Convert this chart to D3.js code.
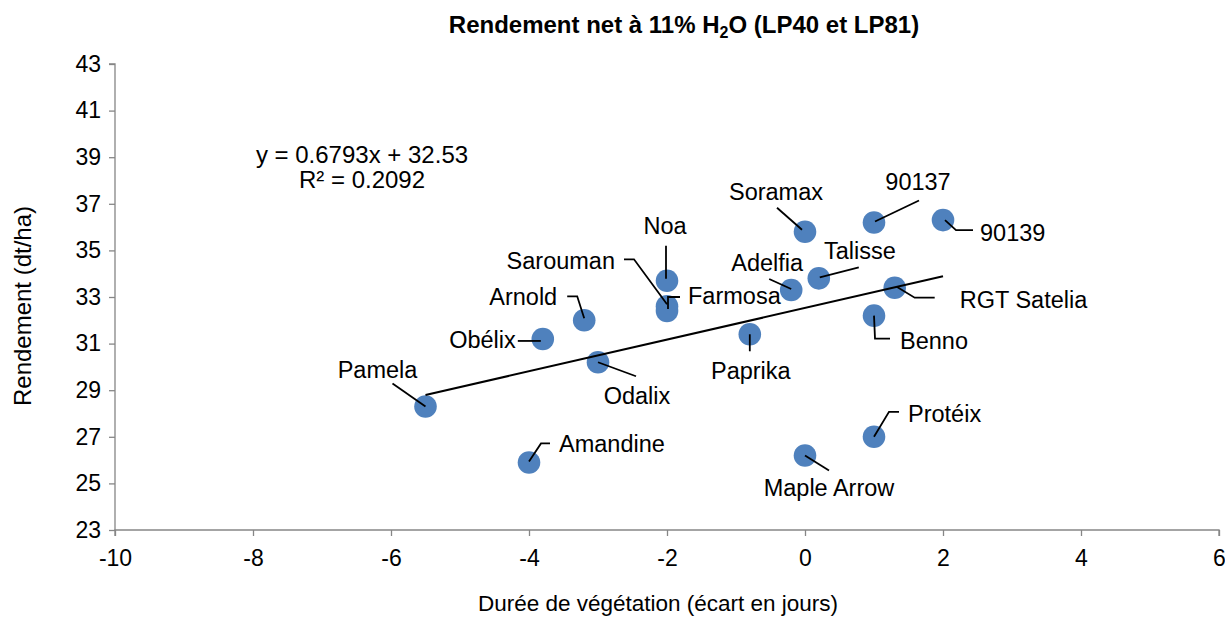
<!DOCTYPE html>
<html>
<head>
<meta charset="utf-8">
<script src="https://cdn.jsdelivr.net/npm/d3@7"></script>
<style>
  html, body { margin: 0; padding: 0; background: #fff; }
  svg { display: block; font-family: "Liberation Sans", Arial, sans-serif; }
</style>
</head>
<body>
<svg id="chart" width="1225" height="617"></svg>
<script>
// ---- data ----
const varieties = ["Pamela","Amandine","Obélix","Arnold","Odalix","Noa","Sarouman","Farmosa","Paprika","Adelfia","Soramax","Maple Arrow","Talisse","90137","Benno","Protéix","RGT Satelia","90139"];
const duree     = [-5.5, -4, -3.8, -3.2, -3, -2, -2, -2, -0.8, -0.2, 0, 0, 0.2, 1, 1, 1, 1.3, 2];
const rendement = [28.3, 25.9, 31.2, 32.0, 30.2, 33.7, 32.6, 32.4, 31.4, 33.3, 35.8, 26.2, 33.8, 36.2, 32.2, 27.0, 33.4, 36.3];
const xTicks = [-10, -8, -6, -4, -2, 0, 2, 4, 6];
const yTicks = [23, 25, 27, 29, 31, 33, 35, 37, 39, 41, 43];
const trendSlope = 0.6793;
const trendIntercept = 32.53;
const trendRange = [-5.5, 2];
const equationLines = ["y = 0.6793x + 32.53", "R² = 0.2092"];

// ---- label layout (pixel offsets from each point: text anchor point and leader polyline) ----
const labelLayout = {
  "Pamela":      {a:"middle", dx:-48, dy:-37, leader:[[-33,-23],[0,0]]},
  "Amandine":    {a:"start",  dx: 30, dy:-18, leader:[[0,-1],[12,-19],[21,-19]]},
  "Obélix":      {a:"end",    dx:-27, dy:  1, leader:[[-25,2],[-2,2]]},
  "Arnold":      {a:"end",    dx:-27, dy:-23, leader:[[-17,-24],[-7,-24],[0,-2]]},
  "Odalix":      {a:"middle", dx: 39, dy: 34, leader:[[0,0],[38,14]]},
  "Noa":         {a:"middle", dx: -2, dy:-55, leader:[[-1,-35],[-1,-2]]},
  "Sarouman":    {a:"end",    dx:-52, dy:-45, leader:[[-43,-47],[-33,-47],[0,-2]]},
  "Farmosa":     {a:"start",  dx: 21, dy:-15, leader:[[1,-2],[1,-14],[13,-14]]},
  "Paprika":     {a:"middle", dx:  1, dy: 37, leader:[[0,0],[0,17]]},
  "Adelfia":     {a:"middle", dx:-24, dy:-27, leader:[[-22,-11],[0,-1]]},
  "Soramax":     {a:"middle", dx:-29, dy:-40, leader:[[-28,-24],[-3,-2]]},
  "Maple Arrow": {a:"middle", dx: 24, dy: 33, leader:[[0,0],[24,15]]},
  "Talisse":     {a:"middle", dx: 41, dy:-27, leader:[[1,-1],[40,-11]]},
  "90137":       {a:"middle", dx: 44, dy:-40, leader:[[1,-1],[45,-22]]},
  "Benno":       {a:"start",  dx: 26, dy: 25, leader:[[0,0],[1,23],[16,23]]},
  "Protéix":     {a:"start",  dx: 34, dy:-23, leader:[[0,0],[15,-25],[25,-25]]},
  "RGT Satelia": {a:"start",  dx: 65, dy: 12, leader:[[2,-1],[20,10],[40,10]]},
  "90139":       {a:"start",  dx: 37, dy: 13, leader:[[2,0],[13,10],[30,10]]}
};

const svg = d3.select("#chart");
const W = 1225, H = 617;
const m = {left: 115, right: 6, top: 64, bottom: 87};
const x = d3.scaleLinear().domain([-10, 6]).range([m.left, W - m.right]);
const y = d3.scaleLinear().domain([23, 43]).range([H - m.bottom, m.top]);

// title
const title = svg.append("text")
  .attr("x", 684).attr("y", 33)
  .attr("text-anchor", "middle")
  .attr("font-size", 24).attr("font-weight", "bold").attr("fill", "#000");
title.append("tspan").text("Rendement net à 11% H");
title.append("tspan").attr("font-size", 16).attr("dy", 5).text("2");
title.append("tspan").attr("dy", -5).text("O (LP40 et LP81)");

// axes
const axisColor = "#868686";
const yAxis = svg.append("g")
  .attr("transform", `translate(${m.left},0)`)
  .call(d3.axisLeft(y).tickValues(yTicks).tickSize(6).tickPadding(8).tickFormat(d3.format("d")));
const xAxis = svg.append("g")
  .attr("transform", `translate(0,${H - m.bottom})`)
  .call(d3.axisBottom(x).tickValues(xTicks).tickSize(6).tickPadding(14).tickFormat(d => d < 0 ? "-" + Math.abs(d) : d));
[yAxis, xAxis].forEach(g => {
  g.select(".domain").attr("stroke", axisColor).attr("stroke-width", 1.3);
  g.selectAll(".tick line").attr("stroke", axisColor).attr("stroke-width", 1.3);
  g.selectAll(".tick text").attr("font-size", 23).attr("fill", "#000")
    .attr("font-family", "Liberation Sans, Arial, sans-serif");
});
yAxis.select(".domain").attr("d", `M-6,${y(43)}H0V${y(23)}`);
xAxis.select(".domain").attr("d", `M${x(-10)},6V0H${x(6)}V6`);

// axis titles
svg.append("text")
  .attr("x", 658).attr("y", 611)
  .attr("text-anchor", "middle").attr("font-size", 22.5).attr("fill", "#000")
  .text("Durée de végétation (écart en jours)");
svg.append("text")
  .attr("transform", `translate(31,${306}) rotate(-90)`)
  .attr("text-anchor", "middle").attr("font-size", 24).attr("fill", "#000")
  .text("Rendement (dt/ha)");

// points
const pts = varieties.map((v, i) => ({name: v, x: duree[i], y: rendement[i]}));
svg.append("g").selectAll("circle").data(pts).join("circle")
  .attr("cx", d => x(d.x)).attr("cy", d => y(d.y)).attr("r", 11.3)
  .attr("fill", "#4F81BD");

// trendline
const trendLine = d3.line().x(d => x(d)).y(d => y(trendSlope * d + trendIntercept));
svg.append("path").attr("d", trendLine(trendRange))
  .attr("fill", "none").attr("stroke", "#000").attr("stroke-width", 2);

// leaders + labels
const lg = svg.append("g");
pts.forEach(d => {
  const L = labelLayout[d.name];
  const px = x(d.x), py = y(d.y);
  lg.append("path")
    .attr("d", d3.line()(L.leader.map(p => [px + p[0], py + p[1]])))
    .attr("fill", "none").attr("stroke", "#000").attr("stroke-width", 1.8);
  lg.append("text")
    .attr("x", px + L.dx).attr("y", py + L.dy)
    .attr("text-anchor", L.a).attr("dominant-baseline", "central")
    .attr("font-size", 23.5).attr("fill", "#000")
    .text(d.name);
});

// equation
const eq = svg.append("text").attr("text-anchor", "middle").attr("font-size", 24).attr("fill", "#000");
equationLines.forEach((t, i) => {
  eq.append("tspan").attr("x", 362).attr("y", 163 + i * 25).text(t);
});
</script>
</body>
</html>
